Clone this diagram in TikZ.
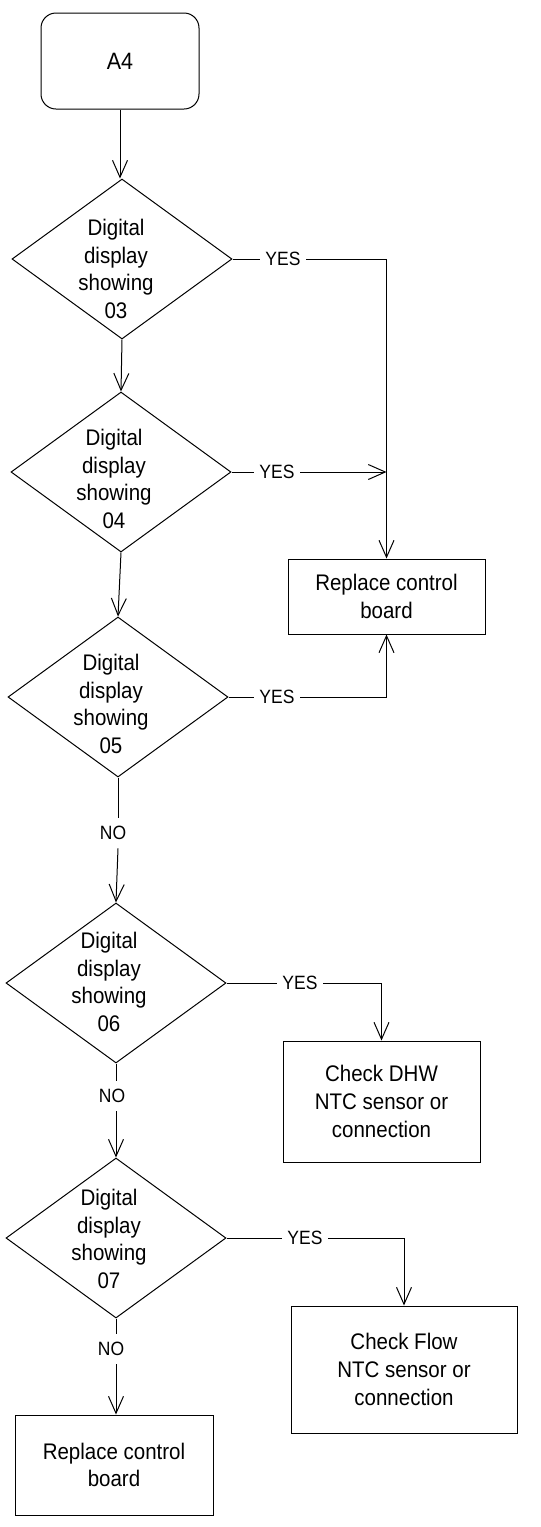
\documentclass[tikz,border=0pt]{standalone}
\usepackage{fontspec}
\setmainfont{Liberation Sans}
\usetikzlibrary{shapes.geometric,arrows.meta}
\newcommand{\tallt}[1]{\raisebox{-2.5pt}[\height][\depth]{\scalebox{1}[1.1]{\begin{tabular}{@{}c@{}}#1\end{tabular}}}}
\newcommand{\tallw}[1]{\scalebox{1}[1.1]{#1}}
\begin{document}
\begin{tikzpicture}[x=1pt,y=-1pt,
  line width=1pt,
  every node/.style={inner sep=0pt},
  dia/.style={draw, diamond, minimum width=220pt, minimum height=160pt, inner sep=0pt},
  dtext/.style={font=\fontsize{20.5}{25.2}\selectfont},
  box/.style={draw, rectangle, font=\fontsize{20.5}{25.2}\selectfont},
  start/.style={draw, rectangle, rounded corners=15pt, font=\fontsize{21.5}{26}\selectfont},
  lbl/.style={font=\fontsize{17.5}{20}\selectfont, inner xsep=5pt, inner ysep=8pt},
  arr/.style={-{Straight Barb[length=17pt,width=15pt]}}
]
\path[fill=white,use as bounding box] (0,0) rectangle (541,1527);

% nodes
\node[start, minimum width=158pt, minimum height=96pt] (a4) at (120,61) {\tallw{A4}};

\node[dia] (d1) at (122,259) {};
\node[dtext] (t1) at (116,269) {\tallt{Digital\\display\\showing\\03}};
\node[dia] (d2) at (121,472) {};
\node[dtext] (t2) at (114,479) {\tallt{Digital\\display\\showing\\04}};
\node[dia] (d3) at (118,697) {};
\node[dtext] (t3) at (111,704) {\tallt{Digital\\display\\showing\\05}};
\node[dia] (d4) at (116,983) {};
\node[dtext] (t4) at (109,982) {\tallt{Digital\\display\\showing\\06}};
\node[dia] (d5) at (116,1238) {};
\node[dtext] (t5) at (109,1239) {\tallt{Digital\\display\\showing\\07}};

\node[box, minimum width=197pt, minimum height=75pt] (r1) at (386.5,596.5) {\tallt{Replace control\\board}};
\node[box, minimum width=197pt, minimum height=121pt] (c1) at (381.5,1101.5) {\tallt{Check DHW\\NTC sensor or\\connection}};
\node[box, minimum width=226pt, minimum height=127pt] (c2) at (404,1369.5) {\tallt{Check Flow\\NTC sensor or\\connection}};
\node[box, minimum width=198pt, minimum height=100pt] (r2) at (114,1465) {\tallt{Replace control\\board}};

\node[lbl] (y1) at (283,259) {\tallw{YES}};
\node[lbl] (y2) at (277,472) {\tallw{YES}};
\node[lbl] (y3) at (277,697) {\tallw{YES}};
\node[lbl] (y4) at (300,983) {\tallw{YES}};
\node[lbl] (y5) at (305,1238) {\tallw{YES}};

\node[lbl] (n3) at (113,833) {\tallw{NO}};
\node[lbl] (n4) at (112,1096) {\tallw{NO}};
\node[lbl] (n5) at (111,1349) {\tallw{NO}};

% vertical flow
\draw[arr] (a4.south) -- (a4.south |- d1.north);
\draw[arr] (d1.south) -- (d2.north);
\draw[arr] (d2.south) -- (d3.north);
\draw (d3.south) -- (d3.south |- n3.north);
\draw[arr] (d3.south |- n3.south) -- (d4.north);
\draw (d4.south) -- (d4.south |- n4.north);
\draw[arr] (d4.south |- n4.south) -- (d5.north);
\draw (d5.south) -- (d5.south |- n5.north);
\draw[arr] (d5.south |- n5.south) -- (r2.north -| d5.south);

% YES branches
\draw (d1.east) -- (y1.west);
\draw[arr] (y1.east) -| (r1.north);
\draw (d2.east) -- (y2.west);
\coordinate (j2) at (r1.north |- y2.east);
\draw[arr] (y2.east) -- (j2);
\draw (d3.east) -- (y3.west);
\draw[arr] (y3.east) -| (r1.south);
\draw (d4.east) -- (y4.west);
\draw[arr] (y4.east) -| (c1.north);
\draw (d5.east) -- (y5.west);
\draw[arr] (y5.east) -| (c2.north);
\end{tikzpicture}
\end{document}
